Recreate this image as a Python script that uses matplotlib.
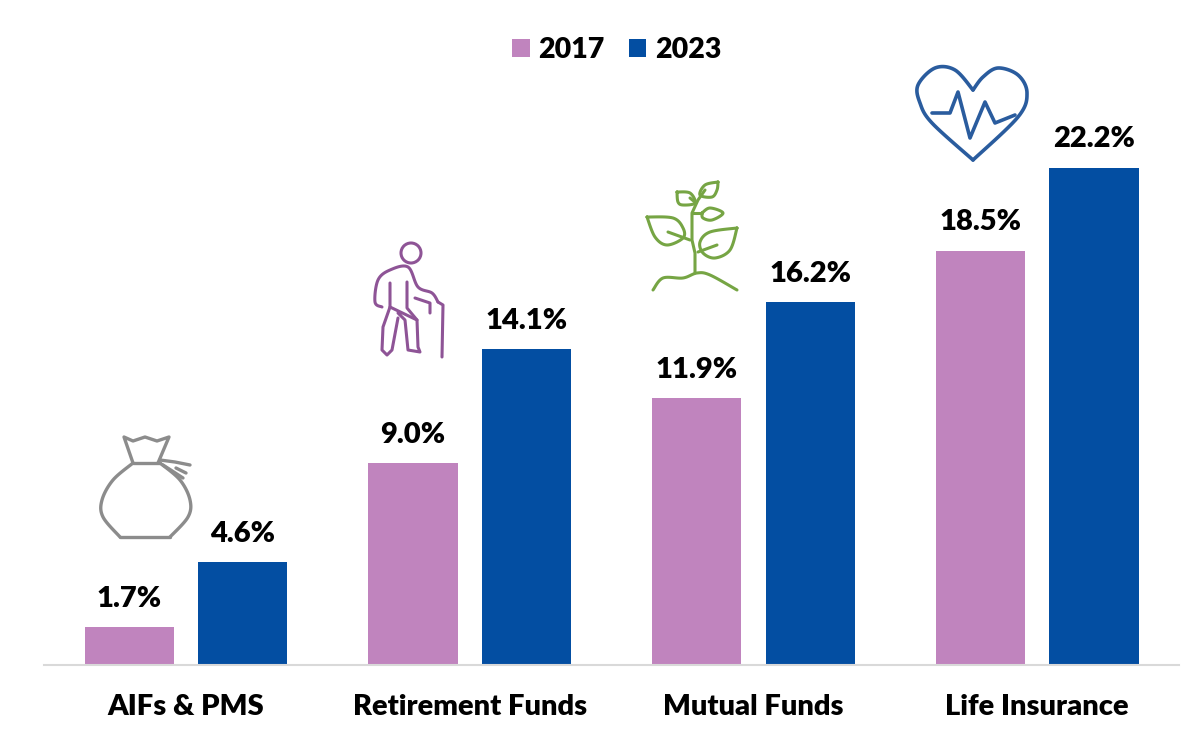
import numpy as np
import matplotlib
matplotlib.use("Agg")
import matplotlib.pyplot as plt
from matplotlib.patches import Circle

categories = ["AIFs & PMS", "Retirement Funds", "Mutual Funds", "Life Insurance"]
years = ["2017", "2023"]
values_2017 = [1.7, 9.0, 11.9, 18.5]
values_2023 = [4.6, 14.1, 16.2, 22.2]

PINK = "#C084BE"
BLUE = "#034EA2"
W, H = 1201, 741
FS = 21

plt.rcParams["font.family"] = ["Lato", "DejaVu Sans"]
plt.rcParams["font.weight"] = "heavy"

fig = plt.figure(figsize=(W / 100, H / 100), dpi=100)
ax = fig.add_axes([44.2 / W, 1 - 665 / H, 1134.8 / W, 665 / H])
x = np.arange(len(categories))
ax.bar(x - 0.2, values_2017, 0.315, color=PINK, label=years[0])
ax.bar(x + 0.2, values_2023, 0.315, color=BLUE, label=years[1])
ax.set_xlim(-0.5, 3.5)
ax.set_ylim(0, 665 / 22.4)
ax.set_yticks([])
ax.set_xticks(x)
ax.set_xticklabels(categories, fontsize=FS, fontweight="heavy")
ax.tick_params(axis="x", length=0, pad=21)
for s in ["top", "left", "right"]:
    ax.spines[s].set_visible(False)
ax.spines["bottom"].set_color("#D9D9D9")
ax.spines["bottom"].set_linewidth(1.5)
for i in x:
    ax.annotate(f"{values_2017[i]:.1f}%", (i - 0.2, values_2017[i]), xytext=(0, 11),
                textcoords="offset points", ha="center", va="bottom", fontsize=FS, fontweight="heavy")
    ax.annotate(f"{values_2023[i]:.1f}%", (i + 0.2, values_2023[i]), xytext=(0, 11),
                textcoords="offset points", ha="center", va="bottom", fontsize=FS, fontweight="heavy")
ax.legend(loc="upper center", bbox_to_anchor=(0.5 + 5.5 / 1135, 1 - 11 / 665), ncol=2, frameon=False, fontsize=20.5,
          handlelength=0.6, handleheight=0.6, handletextpad=0.32, columnspacing=0.85)

# overlay in pixel coords for the little icons
ov = fig.add_axes([0, 0, 1, 1], facecolor="none")
ov.set_xlim(0, W)
ov.set_ylim(H, 0)
ov.axis("off")


def icon(color, lw, *paths):
    for p in paths:
        a = np.array(p, dtype=float)
        ov.plot(a[:, 0], a[:, 1], color=color, lw=lw, solid_capstyle="round", solid_joinstyle="round")


def smooth(pts, n=12):
    # catmull-rom through the given outline points
    p = np.array(pts, dtype=float)
    p = np.vstack([p[0], p, p[-1]])
    out = []
    for i in range(1, len(p) - 2):
        for t in np.linspace(0, 1, n, endpoint=False):
            out.append(0.5 * (2 * p[i] + (p[i + 1] - p[i - 1]) * t
                              + (2 * p[i - 1] - 5 * p[i] + 4 * p[i + 1] - p[i + 2]) * t ** 2
                              + (3 * p[i] - p[i - 1] - 3 * p[i + 1] + p[i + 2]) * t ** 3))
    out.append(p[-2])
    return np.array(out)


# money bag
GREY = "#8C8C8C"
icon(GREY, 2.4,
     smooth([(133, 463), (113, 480), (102, 500), (103, 517), (120, 537)]),
     [(120, 537), (170, 537)],
     smooth([(170, 537), (188, 517), (190, 500), (180, 480), (160, 463)]),
     [(133, 463), (160, 463)],
     [(133, 463), (124, 437), (133, 441), (145, 437), (157, 441), (169, 437), (158, 463)],
     [(160, 460), (175, 462), (190, 465)],
     [(163, 465), (183, 478)],
     [(176, 468), (186, 473)])

# old man with stick
PURPLE = "#8E5496"
ov.add_patch(Circle((411, 253), 10, fill=False, ec=PURPLE, lw=2.2))
icon(PURPLE, 2.2,
     smooth([(382, 307), (375, 302), (378, 280), (390, 270), (408, 267), (418, 287), (432, 293), (438, 302)]),
     [(415, 298), (430, 303), (430, 313)],
     [(438, 302), (443, 305), (442, 357)],
     [(390, 283), (390, 307), (383, 327), (382, 350), (387, 355), (392, 350), (398, 318)],
     [(390, 307), (417, 320), (418, 347), (420, 352), (408, 350), (405, 320), (398, 313)],
     [(407, 282), (407, 308), (417, 320)])

# plant
GREEN = "#76A544"
icon(GREEN, 2.2,
     [(695, 273), (695, 253), (692, 240), (692, 213), (698, 200), (705, 190)],
     [(692, 213), (702, 213)],
     [(696, 203), (690, 198)],
     [(668, 232), (690, 240)],
     [(717, 245), (698, 252)],
     smooth([(647, 217), (673, 218), (683, 228), (683, 238), (667, 245), (655, 237), (647, 217)]),
     smooth([(737, 228), (710, 232), (700, 242), (703, 253), (715, 258), (730, 250), (737, 228)]),
     smooth([(677, 192), (690, 193), (695, 203), (683, 205), (678, 202), (677, 192)]),
     smooth([(718, 182), (705, 185), (700, 195), (712, 197), (717, 190), (718, 182)]),
     smooth([(702, 213), (710, 208), (723, 213), (712, 220), (703, 218), (702, 213)]),
     smooth([(653, 290), (663, 278), (683, 278), (697, 273), (710, 275), (737, 290)]))

# heart with pulse
NAVY = "#2A5C9E"
icon(NAVY, 2.6,
     smooth([(973, 90), (955, 70), (935, 68), (918, 85), (920, 103), (932, 123), (973, 160)]),
     smooth([(973, 160), (1018, 117), (1027, 93), (1018, 75), (998, 68), (983, 77), (973, 90)]),
     [(932, 113), (950, 113), (958, 92), (970, 138), (985, 102), (995, 123), (1015, 115)])

fig.savefig("out.png", dpi=100)
